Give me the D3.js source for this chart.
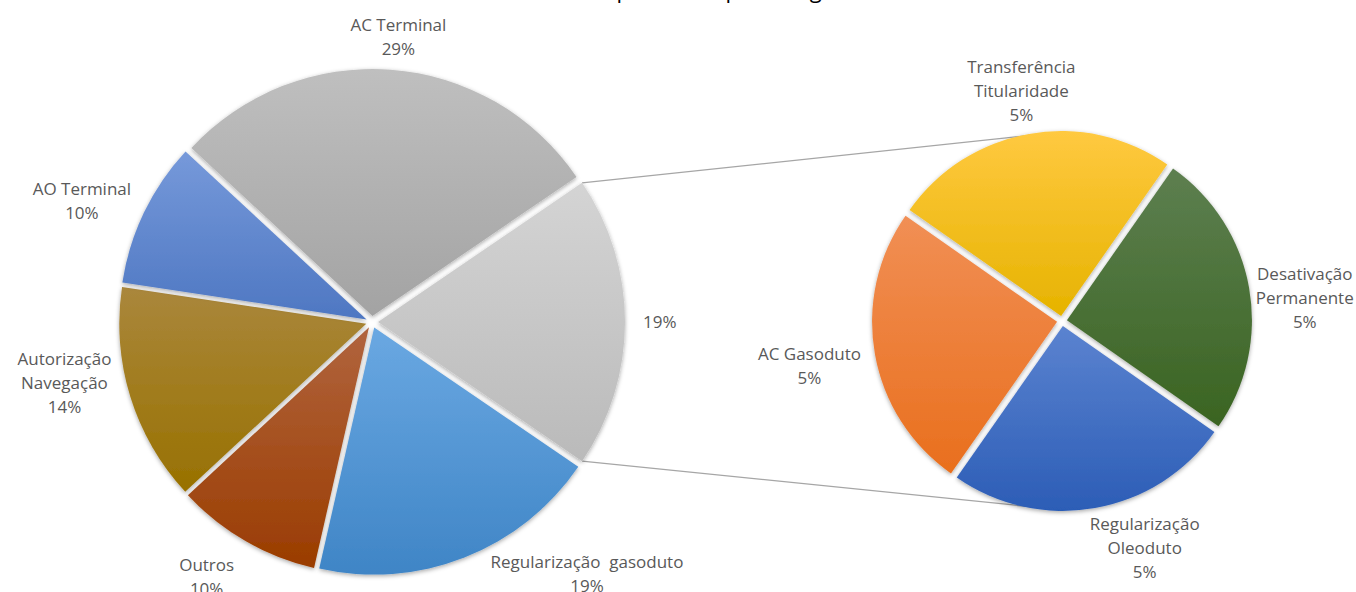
<!DOCTYPE html>
<html>
<head>
<meta charset="utf-8">
<script src="https://cdn.jsdelivr.net/npm/d3@7"></script>
<style>
  body { margin: 0; background: #fff; }
  svg { display: block; }
</style>
</head>
<body>
<div id="chart"></div>
<script>
// main pie categories (counts), "other" slice is the sum of the secondary pie
const mainNames = ["Regularização  gasoduto", "Outros", "Autorização Navegação", "AO Terminal", "AC Terminal"];
const mainLines = [["Regularização  gasoduto"], ["Outros"], ["Autorização", "Navegação"], ["AO Terminal"], ["AC Terminal"]];
const mainValues = [4, 2, 3, 2, 6];
const mainTop = ["#6aa8e2", "#b1643e", "#aa873c", "#7699da", "#bfbfbf"];
const mainBottom = ["#3f85c6", "#9a3c00", "#987100", "#4e77c2", "#a3a3a3"];

// secondary pie
const subNames = ["Transferência Titularidade", "Desativação Permanente", "Regularização Oleoduto", "AC Gasoduto"];
const subLines = [["Transferência", "Titularidade"], ["Desativação", "Permanente"], ["Regularização", "Oleoduto"], ["AC Gasoduto"]];
const subValues = [1, 1, 1, 1];
const subTop = ["#ffc940", "#5d7f50", "#5b83d0", "#f18f55"];
const subBottom = ["#e6b300", "#3a6421", "#2c5db6", "#e96f1d"];

const otherTop = "#d4d4d4", otherBottom = "#bababa";
const titleText = "Total de processos por categoria";

const width = 1356, height = 592;
const fmt = d3.format(".0%");
const total = d3.sum(mainValues) + d3.sum(subValues);
const otherValue = d3.sum(subValues);

const svg = d3.select("#chart").append("svg")
  .attr("width", width)
  .attr("height", height)
  .style("font-family", "'Open Sans', sans-serif");

const defs = svg.append("defs");
const shadow = defs.append("filter").attr("id", "shadow")
  .attr("x", "-10%").attr("y", "-10%").attr("width", "120%").attr("height", "120%");
shadow.append("feDropShadow")
  .attr("dx", 0).attr("dy", 1.5).attr("stdDeviation", 2)
  .attr("flood-color", "#000").attr("flood-opacity", 0.35);

function gradient(id, top, bottom) {
  const g = defs.append("linearGradient").attr("id", id)
    .attr("x1", 0).attr("y1", 0).attr("x2", 0).attr("y2", 1);
  g.append("stop").attr("offset", "0%").attr("stop-color", top);
  g.append("stop").attr("offset", "100%").attr("stop-color", bottom);
  return `url(#${id})`;
}

// title (cropped at top edge in the original, only descenders show)
svg.append("text")
  .attr("x", 695).attr("y", -2)
  .attr("text-anchor", "middle")
  .attr("font-size", 22)
  .attr("fill", "#000")
  .text(titleText);

// geometry
const main = { cx: 372, cy: 322, r: 247, explode: 6 };
const sub = { cx: 1062, cy: 321, r: 185, explode: 5 };

// small nudges for label placement [degrees, extra px], like Excel's best fit
const labelShift = {
  "AC Terminal": [1, 0], "AO Terminal": [-3, 0], "Autorização Navegação": [6, 0], "Outros": [3, 10],
  "Regularização  gasoduto": [-19, -8], "other": [0, 10],
  "Transferência Titularidade": [0, 0], "Desativação Permanente": [4.5, 0],
  "Regularização Oleoduto": [-10, 0], "AC Gasoduto": [0, 10]
};

// main pie rows: other slice first, centered at 3 o'clock
const mainRows = [{ name: "other", lines: [], value: otherValue, top: otherTop, bottom: otherBottom }]
  .concat(mainNames.map((n, i) => ({ name: n, lines: mainLines[i], value: mainValues[i], top: mainTop[i], bottom: mainBottom[i] })));
const otherSpan = otherValue / d3.sum(mainRows, d => d.value) * 2 * Math.PI;
const mainStart = Math.PI / 2 - otherSpan / 2;

const subRows = subNames.map((n, i) => ({ name: n, lines: subLines[i], value: subValues[i], top: subTop[i], bottom: subBottom[i] }));
const subStart = -55 * Math.PI / 180;

const mainArcs = d3.pie().sort(null).value(d => d.value)
  .startAngle(mainStart).endAngle(mainStart + 2 * Math.PI)(mainRows);
const subArcs = d3.pie().sort(null).value(d => d.value)
  .startAngle(subStart).endAngle(subStart + 2 * Math.PI)(subRows);

// connector lines (behind pies)
const otherArc = mainArcs[0];
const ox = main.explode * Math.sin((otherArc.startAngle + otherArc.endAngle) / 2);
const oy = -main.explode * Math.cos((otherArc.startAngle + otherArc.endAngle) / 2);
const corner = a => [main.cx + ox + main.r * Math.sin(a), main.cy + oy - main.r * Math.cos(a)];
const subPt = a => [sub.cx + (sub.r + 3) * Math.sin(a), sub.cy - (sub.r + 3) * Math.cos(a)];
const conn = [
  [corner(otherArc.startAngle), subPt(-7 * Math.PI / 180)],
  [corner(otherArc.endAngle), subPt(187 * Math.PI / 180)]
];
svg.append("g").selectAll("line").data(conn).join("line")
  .attr("x1", d => d[0][0]).attr("y1", d => d[0][1])
  .attr("x2", d => d[1][0]).attr("y2", d => d[1][1])
  .attr("stroke", "#a6a6a6").attr("stroke-width", 1.3);

function drawPie(arcs, geo, prefix) {
  const arc = d3.arc().innerRadius(0).outerRadius(geo.r);
  const g = svg.append("g").attr("transform", `translate(${geo.cx},${geo.cy})`);
  g.selectAll("path").data(arcs).join("path")
    .attr("d", arc)
    .attr("transform", d => {
      const a = (d.startAngle + d.endAngle) / 2;
      return `translate(${geo.explode * Math.sin(a)},${-geo.explode * Math.cos(a)})`;
    })
    .attr("fill", (d, i) => gradient(`${prefix}-grad-${i}`, d.data.top, d.data.bottom))
    .attr("filter", "url(#shadow)");
}

function drawLabels(arcs, geo, pad) {
  const lineH = 24;
  arcs.forEach(d => {
    const lines = d.data.lines.concat([fmt(d.data.value / total)]);
    const t = svg.append("text")
      .attr("font-size", 17)
      .attr("fill", "#595959")
      .attr("text-anchor", "middle")
      .style("white-space", "pre");
    lines.forEach(l => t.append("tspan").text(l));
    const w = d3.max(t.selectAll("tspan").nodes(), n => n.getComputedTextLength());
    const h = (lines.length - 1) * lineH + 18;
    const nudge = labelShift[d.data.name] || [0, 0];
    const a = (d.startAngle + d.endAngle) / 2 + nudge[0] * Math.PI / 180;
    const s = Math.sin(a), c = Math.cos(a);
    const dist = geo.r + geo.explode + pad + nudge[1] + Math.abs(s) * w / 2 + Math.abs(c) * h / 2;
    const x = geo.cx + dist * s;
    const y = geo.cy - dist * c;
    t.selectAll("tspan")
      .attr("x", x)
      .attr("y", (l, i) => y - (lines.length - 1) * lineH / 2 + i * lineH + 6);
  });
}

drawPie(mainArcs, main, "main");
drawPie(subArcs, sub, "sub");
drawLabels(mainArcs, main, 8);
drawLabels(subArcs, sub, 2);
</script>
</body>
</html>
